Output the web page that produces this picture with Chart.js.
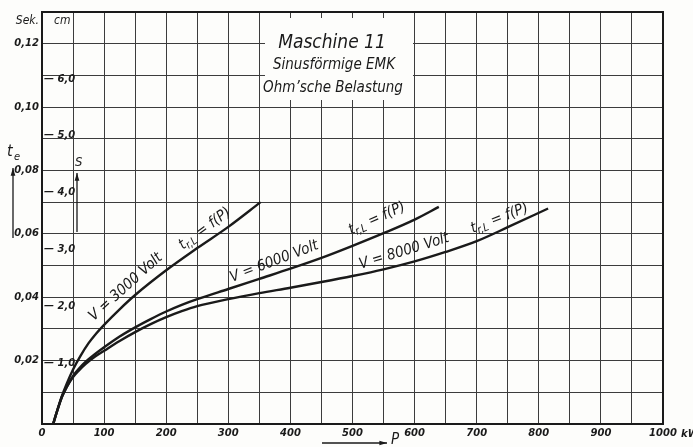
<!DOCTYPE html>
<html>
<head>
<meta charset="utf-8">
<script src="https://cdn.jsdelivr.net/npm/chart.js@4/dist/chart.umd.min.js"></script>
<style>
  html, body { margin: 0; padding: 0; background: #fdfdfb; }
  #wrap { width: 693px; height: 447px; }
</style>
</head>
<body>
<div id="wrap"><canvas id="chart"></canvas></div>
<script>
// P in kW, t in Sek.
const p3000 = [18, 25, 32, 40, 50, 62, 75, 87, 100, 125, 150, 200, 250, 300, 352];
const t3000 = [0, 0.0045, 0.0088, 0.0128, 0.0172, 0.0215, 0.0255, 0.0285, 0.0313, 0.0362, 0.0407, 0.0485, 0.0555, 0.0622, 0.070];

const p6000 = [18, 25, 32, 40, 50, 60, 70, 85, 100, 125, 150, 175, 200, 225, 250, 300, 350, 400, 450, 500, 550, 600, 639];
const t6000 = [0, 0.0045, 0.0085, 0.0118, 0.0152, 0.0176, 0.0196, 0.022, 0.0242, 0.0276, 0.0305, 0.0331, 0.0355, 0.0376, 0.0394, 0.0426, 0.0458, 0.049, 0.0524, 0.0562, 0.0602, 0.0645, 0.0685];

const p8000 = [18, 25, 32, 40, 50, 60, 70, 85, 100, 125, 150, 175, 200, 225, 250, 300, 350, 400, 450, 500, 550, 600, 650, 700, 750, 815];
const t8000 = [0, 0.0045, 0.0085, 0.0117, 0.0148, 0.017, 0.0189, 0.0212, 0.0231, 0.0262, 0.029, 0.0315, 0.0337, 0.0356, 0.0372, 0.0394, 0.0413, 0.043, 0.0448, 0.0467, 0.0488, 0.0513, 0.0543, 0.0577, 0.0621, 0.068];

// secondary scale (Weg S in cm)
const cmTicks = [1, 2, 3, 4, 5, 6];

// curve captions: text parts (middle one subscript), anchor P, anchor t, angle
const curveLabels = [
    { parts: ['V = 3000 Volt'], p: 139, t: 0.0423, angle: -42 },
    { parts: ['t', 'r,L', ' = f(P)'], p: 266, t: 0.0606, angle: -36 },
    { parts: ['V = 6000 Volt'], p: 376, t: 0.0501, angle: -21 },
    { parts: ['t', 'r,L', ' = f(P)'], p: 542, t: 0.0637, angle: -24 },
    { parts: ['V = 8000 Volt'], p: 585, t: 0.0533, angle: -17 },
    { parts: ['t', 'r,L', ' = f(P)'], p: 739, t: 0.0637, angle: -21 }
];

const toPoints = (xs, ys) => xs.map((x, i) => ({ x: x, y: ys[i] }));

const INK = '#1a1a1a';
const FONT = '"Liberation Sans Narrow", "DejaVu Sans Condensed", "DejaVu Sans", sans-serif';
const TICKFONT = { family: '"DejaVu Sans", sans-serif', size: 10, style: 'italic', weight: 'bold' };

function drawCaption(ctx, parts, size) {
    const big = 'italic ' + size + 'px ' + FONT;
    const small = 'italic ' + Math.round(size * 0.7) + 'px ' + FONT;
    let total = 0;
    parts.forEach((s, i) => {
        ctx.font = (parts.length === 3 && i === 1) ? small : big;
        total += ctx.measureText(s).width;
    });
    let x = -total / 2;
    parts.forEach((s, i) => {
        const sub = parts.length === 3 && i === 1;
        ctx.font = sub ? small : big;
        ctx.fillText(s, x, sub ? 3 : 0);
        x += ctx.measureText(s).width;
    });
}

const paperPlugin = {
    id: 'paper',
    afterDraw(chart) {
        const ctx = chart.ctx;
        const area = chart.chartArea;
        const xs = chart.scales.x;
        const ys = chart.scales.y;
        ctx.save();

        // frame
        ctx.strokeStyle = INK;
        ctx.lineWidth = 2;
        ctx.strokeRect(area.left, area.top, area.right - area.left, area.bottom - area.top);

        // title block
        ctx.fillStyle = '#fdfdfb';
        ctx.fillRect(265, 18, 148, 82);
        ctx.fillStyle = INK;
        ctx.textAlign = 'center';
        ctx.textBaseline = 'alphabetic';
        ctx.font = 'italic 19px ' + FONT;
        ctx.fillText('Maschine 11', 332, 48);
        ctx.font = 'italic 15px ' + FONT;
        ctx.fillText('Sinusförmige EMK', 334, 69);
        ctx.fillText('Ohm\u2019sche Belastung', 333, 92);

        // unit labels at top
        ctx.font = 'italic 12px ' + FONT;
        ctx.textAlign = 'right';
        ctx.fillText('Sek.', 39, 24);
        ctx.textAlign = 'left';
        ctx.fillText('cm', 54, 24);

        // t_e and S labels
        ctx.font = 'italic 16px ' + FONT;
        ctx.fillText('t', 7, 156);
        ctx.font = 'italic 11px ' + FONT;
        ctx.fillText('e', 14, 160);
        ctx.font = 'italic 13px ' + FONT;
        ctx.fillText('S', 75, 166);

        ctx.lineWidth = 1.3;
        const arrow = (x1, y1, x2, y2) => {
            ctx.beginPath();
            ctx.moveTo(x1, y1);
            ctx.lineTo(x2, y2);
            ctx.stroke();
            const a = Math.atan2(y2 - y1, x2 - x1);
            ctx.beginPath();
            ctx.moveTo(x2, y2);
            ctx.lineTo(x2 - 8 * Math.cos(a - 0.3), y2 - 8 * Math.sin(a - 0.3));
            ctx.lineTo(x2 - 8 * Math.cos(a + 0.3), y2 - 8 * Math.sin(a + 0.3));
            ctx.closePath();
            ctx.fill();
        };
        arrow(13, 238, 13, 168);
        arrow(77, 232, 77, 173);
        arrow(322, 443, 387, 443);

        ctx.font = 'italic 15px ' + FONT;
        ctx.fillText('P', 391, 444);
        ctx.font = 'italic bold 10px "DejaVu Sans", sans-serif';
        ctx.fillText('kW', 681, 437);

        // curve captions
        curveLabels.forEach(l => {
            ctx.save();
            ctx.translate(xs.getPixelForValue(l.p), ys.getPixelForValue(l.t));
            ctx.rotate(l.angle * Math.PI / 180);
            ctx.textAlign = 'left';
            drawCaption(ctx, l.parts, 15);
            ctx.restore();
        });
        ctx.restore();
    }
};

function initChart() {
    const ctx = document.getElementById('chart').getContext('2d');
    const lineStyle = {
        showLine: true,
        borderColor: INK,
        borderWidth: 2.4,
        pointRadius: 0,
        cubicInterpolationMode: 'monotone',
        fill: false
    };
    return new Chart(ctx, {
        type: 'scatter',
        data: {
            datasets: [
                Object.assign({ label: 'V = 3000 Volt', data: toPoints(p3000, t3000) }, lineStyle),
                Object.assign({ label: 'V = 6000 Volt', data: toPoints(p6000, t6000) }, lineStyle),
                Object.assign({ label: 'V = 8000 Volt', data: toPoints(p8000, t8000) }, lineStyle)
            ]
        },
        options: {
            responsive: true,
            maintainAspectRatio: false,
            animation: false,
            layout: { padding: { left: 0, top: 12, right: 30, bottom: 0 } },
            plugins: { legend: { display: false }, tooltip: { enabled: false } },
            scales: {
                x: {
                    type: 'linear',
                    min: 0,
                    max: 1000,
                    afterFit: s => { s.height = 23; },
                    ticks: {
                        stepSize: 50,
                        autoSkip: false,
                        maxRotation: 0,
                        padding: 3,
                        color: INK,
                        font: TICKFONT,
                        callback: v => (v % 100 === 0 ? String(v) : '')
                    },
                    grid: { color: '#3c3c3c', lineWidth: 1, drawTicks: false },
                    border: { display: false }
                },
                y: {
                    type: 'linear',
                    position: 'left',
                    weight: 2,
                    min: 0,
                    max: 0.13,
                    afterFit: s => { s.width = 42; },
                    ticks: {
                        stepSize: 0.01,
                        autoSkip: false,
                        padding: 3,
                        color: INK,
                        font: TICKFONT,
                        callback: v => {
                            const n = Math.round(v * 100);
                            return (n > 0 && n % 2 === 0) ? (n / 100).toFixed(2).replace('.', ',') : '';
                        }
                    },
                    grid: { color: '#3c3c3c', lineWidth: 1, drawTicks: false },
                    border: { display: false }
                },
                yCm: {
                    type: 'linear',
                    position: 'left',
                    weight: 0,
                    min: -0.07,
                    max: 7.18,
                    afterFit: s => { s.width = 0; },
                    afterBuildTicks: s => { s.ticks = cmTicks.map(v => ({ value: v })); },
                    ticks: {
                        mirror: true,
                        padding: 2,
                        color: INK,
                        font: TICKFONT,
                        callback: v => '\u2014 ' + v.toFixed(1).replace('.', ',')
                    },
                    grid: { display: false },
                    border: { display: false }
                }
            }
        },
        plugins: [paperPlugin]
    });
}

initChart();
</script>
</body>
</html>
